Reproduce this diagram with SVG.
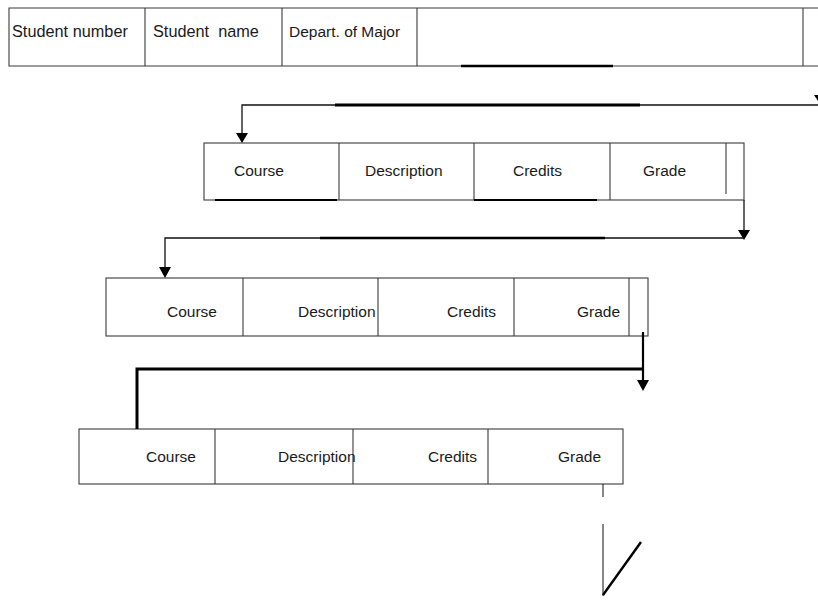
<svg xmlns="http://www.w3.org/2000/svg" width="818" height="600" viewBox="0 0 818 600">
  <defs>
    <style>
      .box { fill: none; stroke: #3a3a3a; stroke-width: 1.1; }
      .div { stroke: #3a3a3a; stroke-width: 1.1; }
      .lbl { font-family: "Liberation Sans", Arial, sans-serif; font-size: 15.5px; fill: #1a1a1a; }
      .big { font-size: 16.3px; }
      .wire { fill: none; stroke: #111; stroke-width: 1.3; }
      .heavy { fill: none; stroke: #000; stroke-width: 3; }
      .mid { fill: none; stroke: #000; stroke-width: 2.2; }
      .head { fill: #000; }
    </style>
  </defs>
  <rect width="818" height="600" fill="#fff"/>

  <!-- student record header (continues past the right edge) -->
  <g id="student-record">
    <path class="box" d="M818 8 H9 V66 H818"/>
    <line class="div" x1="145" y1="8" x2="145" y2="66"/>
    <line class="div" x1="282" y1="8" x2="282" y2="66"/>
    <line class="div" x1="417" y1="8" x2="417" y2="66"/>
    <line class="div" x1="803" y1="8" x2="803" y2="66"/>
    <line class="heavy" x1="461" y1="66" x2="613" y2="66" style="stroke-width:2.4"/>
    <text class="lbl big" x="12" y="37">Student number</text>
    <text class="lbl big" x="153" y="37" xml:space="preserve">Student  name</text>
    <text class="lbl" x="289" y="37">Depart. of Major</text>
  </g>

  <!-- first course record -->
  <g id="course-1">
    <rect class="box" x="204" y="143" width="540" height="57"/>
    <line class="div" x1="339" y1="143" x2="339" y2="200"/>
    <line class="div" x1="474" y1="143" x2="474" y2="200"/>
    <line class="div" x1="610" y1="143" x2="610" y2="200"/>
    <line class="div" x1="726" y1="143" x2="726" y2="194"/>
    <line class="mid" x1="215" y1="200" x2="337" y2="200"/>
    <line class="mid" x1="474" y1="200" x2="597" y2="200"/>
    <text class="lbl" x="234" y="176">Course</text>
    <text class="lbl" x="365" y="176">Description</text>
    <text class="lbl" x="513" y="176">Credits</text>
    <text class="lbl" x="643" y="176">Grade</text>
  </g>

  <!-- second course record -->
  <g id="course-2">
    <rect class="box" x="106" y="278" width="542" height="58"/>
    <line class="div" x1="243" y1="278" x2="243" y2="336"/>
    <line class="div" x1="378" y1="278" x2="378" y2="336"/>
    <line class="div" x1="514" y1="278" x2="514" y2="336"/>
    <line class="div" x1="629" y1="278" x2="629" y2="336"/>
    <text class="lbl" x="167" y="317">Course</text>
    <text class="lbl" x="298" y="317">Description</text>
    <text class="lbl" x="447" y="317">Credits</text>
    <text class="lbl" x="577" y="317">Grade</text>
  </g>

  <!-- third course record -->
  <g id="course-3">
    <rect class="box" x="79" y="429" width="544" height="55"/>
    <line class="div" x1="215" y1="429" x2="215" y2="484"/>
    <line class="div" x1="353" y1="429" x2="353" y2="484"/>
    <line class="div" x1="488" y1="429" x2="488" y2="484"/>
    <text class="lbl" x="146" y="462">Course</text>
    <text class="lbl" x="278" y="462">Description</text>
    <text class="lbl" x="428" y="462">Credits</text>
    <text class="lbl" x="558" y="462">Grade</text>
  </g>

  <!-- chain pointers between records -->
  <g id="connectors">
    <!-- header to first course -->
    <path class="wire" d="M818 105 H242 V134"/>
    <line class="heavy" x1="335" y1="105" x2="640" y2="105"/>
    <polygon class="head" points="236,133 248,133 242,143"/>
    <polygon class="head" points="814,95 818,95 818,101"/>

    <!-- first course to second course -->
    <path class="wire" d="M744 200 V232"/>
    <polygon class="head" points="738,230 750,230 744,240"/>
    <path class="wire" d="M744 238 H165 V268"/>
    <line class="heavy" x1="320" y1="238" x2="605" y2="238" style="stroke-width:2.4"/>
    <polygon class="head" points="159,267 171,267 165,278"/>

    <!-- second course to third course -->
    <line class="mid" x1="643" y1="332" x2="643" y2="382"/>
    <polygon class="head" points="637,380 649,380 643,391"/>
    <path class="heavy" d="M643 369 H137 V429"/>

    <!-- trailing pointer to the next record -->
    <line class="wire" x1="603" y1="484" x2="603" y2="497" style="stroke-width:1"/>
    <line class="wire" x1="603" y1="524" x2="603" y2="596" style="stroke-width:1"/>
    <line class="heavy" x1="603" y1="595" x2="641" y2="542" style="stroke-width:2.4"/>
  </g>
</svg>
